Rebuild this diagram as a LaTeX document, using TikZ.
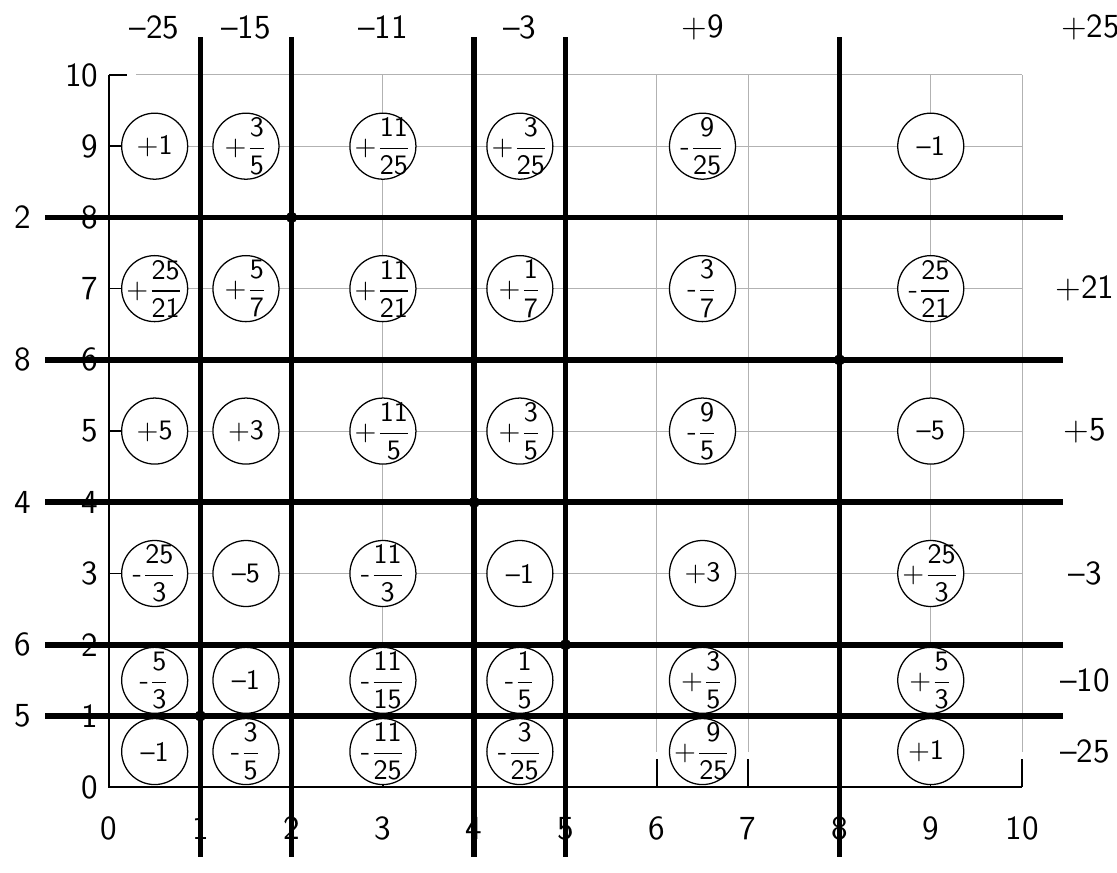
\documentclass[tikz,border=0pt]{standalone}
\usepackage{amsmath}
\usetikzlibrary{positioning}
\newcommand{\fr}[3]{#1$\dfrac{\text{#2}}{\text{#3}}$}

\begin{document}
\begin{tikzpicture}[x=1.141cm,y=0.89cm,font=\sffamily,
    val/.style={draw,circle,fill=white,line width=0.45pt,minimum size=0.825cm,inner sep=0pt,font=\sffamily\normalsize},
    cut/.style={line width=2pt},
    lab/.style={font=\sffamily\large,inner sep=1pt}]
    \useasboundingbox (-1.194,-1.194) rectangle (11.04,11.053);

    % grid and axes
    \foreach \i in {1,...,10} {
        \draw[gray!60, line width=0.35pt] (\i,0.5) -- (\i,10);
        \draw[gray!60, line width=0.35pt] (0.3,\i) -- (10,\i);
    }
    \draw[line width=0.5pt] (0,10) -- (0,0) -- (10,0);
    \foreach \i in {0,...,10} {
        \draw[line width=0.5pt] (\i,0) -- (\i,0.4);
        \draw[line width=0.5pt] (0,\i) -- (0.2,\i);
        \node[lab] (xl\i) at (\i,-0.58) {\i};
        \node[lab,anchor=east] (yl\i) at (-0.08,\i) {\i};
    }

    % values
    \foreach \x/\y/\v [count=\n] in {
        0.5/9/{+1}, 1.5/9/{\fr{+}{3}{5}}, 3/9/{\fr{+}{11}{25}}, 4.5/9/{\fr{+}{3}{25}}, 6.5/9/{\fr{-}{9}{25}}, 9/9/{--1},
        0.5/7/{\fr{+}{25}{21}}, 1.5/7/{\fr{+}{5}{7}}, 3/7/{\fr{+}{11}{21}}, 4.5/7/{\fr{+}{1}{7}}, 6.5/7/{\fr{-}{3}{7}}, 9/7/{\fr{-}{25}{21}},
        0.5/5/{+5}, 1.5/5/{+3}, 3/5/{\fr{+}{11}{5}}, 4.5/5/{\fr{+}{3}{5}}, 6.5/5/{\fr{-}{9}{5}}, 9/5/{--5},
        0.5/3/{\fr{-}{25}{3}}, 1.5/3/{--5}, 3/3/{\fr{-}{11}{3}}, 4.5/3/{--1}, 6.5/3/{+3}, 9/3/{\fr{+}{25}{3}},
        0.5/1.5/{\fr{-}{5}{3}}, 1.5/1.5/{--1}, 3/1.5/{\fr{-}{11}{15}}, 4.5/1.5/{\fr{-}{1}{5}}, 6.5/1.5/{\fr{+}{3}{5}}, 9/1.5/{\fr{+}{5}{3}},
        0.5/0.5/{--1}, 1.5/0.5/{\fr{-}{3}{5}}, 3/0.5/{\fr{-}{11}{25}}, 4.5/0.5/{\fr{-}{3}{25}}, 6.5/0.5/{\fr{+}{9}{25}}, 9/0.5/{+1}
    } \node[val] (v\n) at (\x,\y) {\makebox[0pt]{\v}};

    % cutting lines
    \foreach \x in {1,2,4,5,8} \draw[cut] (\x,-0.98) -- (\x,10.53);
    \foreach \y in {1,2,4,6,8} \draw[cut] (-0.7,\y) -- (10.45,\y);
    \foreach \x/\y in {2/8,8/6,4/4,5/2,1/1} \fill (\x,\y) circle (2pt);

    % labels of the lines
    \foreach \y/\t in {8/2,6/8,4/4,2/6,1/5}
        \node[lab] (hl\y) at (-0.95,\y) {\t};
    \foreach \x/\t in {0.5/--25,1.5/--15,3/--11,4.5/--3,6.5/+9,10.75/+25}
        \node[lab] (top\x) at (\x,10.67) {\t};
    \foreach \y/\t in {7/+21,5/+5,3/--3,1.5/--10,0.5/--25}
        \node[lab] (rt\y) at (10.69,\y) {\t};
\end{tikzpicture}
\end{document}
